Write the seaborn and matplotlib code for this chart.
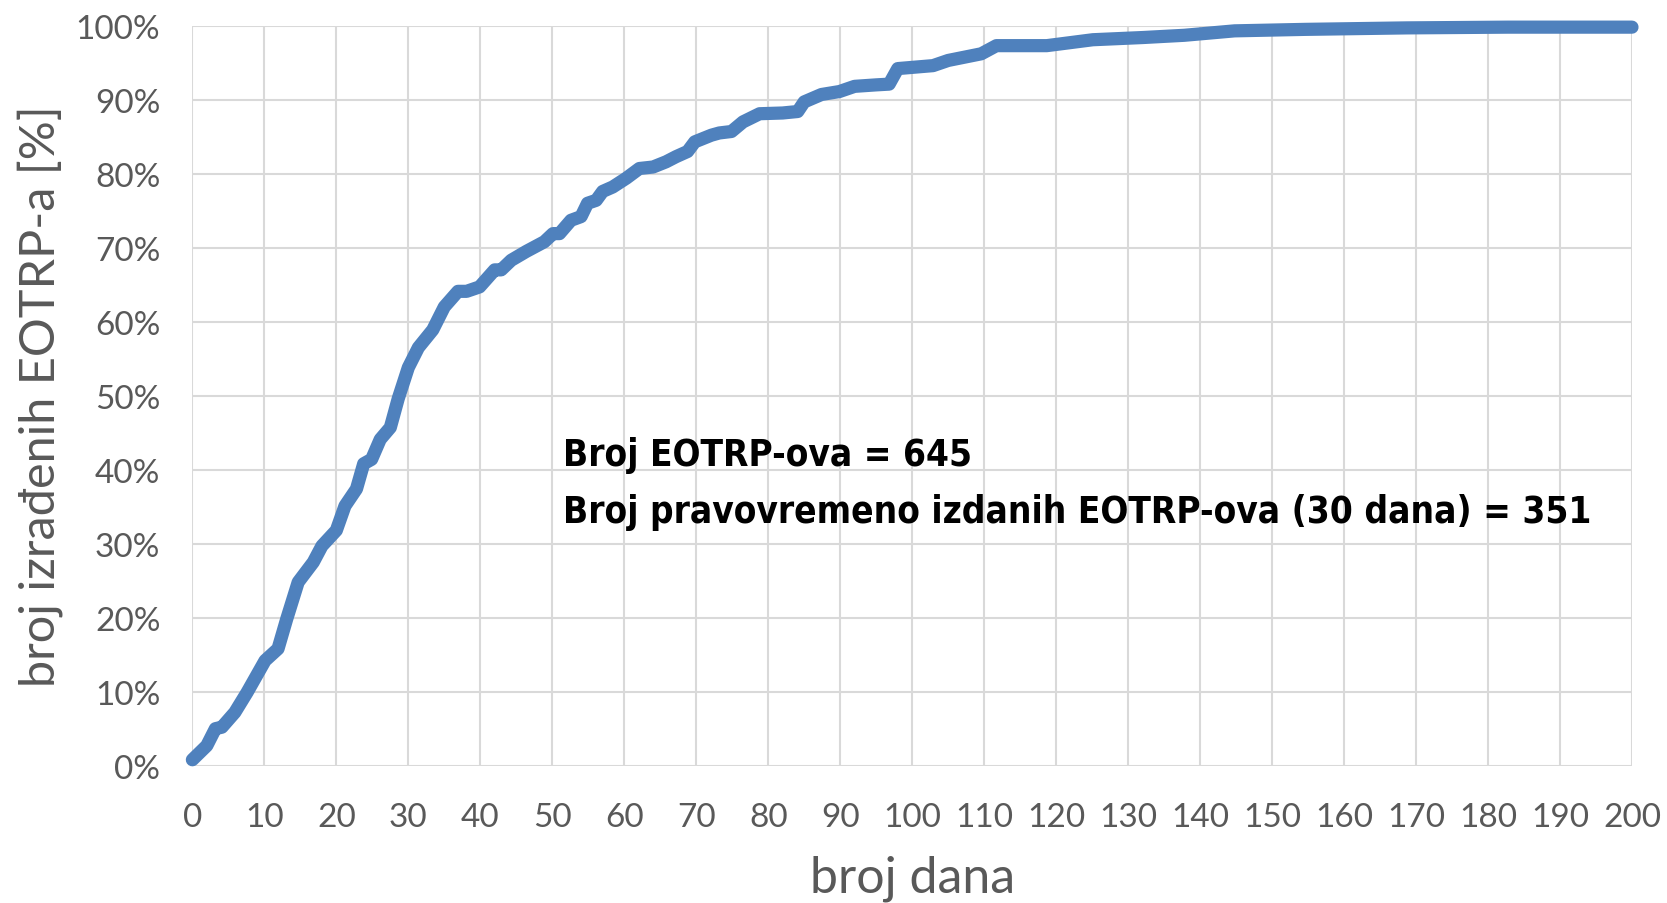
import pandas as pd
import matplotlib.pyplot as plt
import seaborn as sns
from matplotlib.ticker import PercentFormatter

# values (days, cumulative %)
days = [0, 2.0, 3.2, 4.1, 5.9, 7.6, 10.1, 11.9, 13.1, 14.7, 16.8, 18.0, 20.0, 21.2,
        22.8, 23.8, 24.9, 26.1, 27.5, 28.6, 30.0, 31.4, 33.4, 35.0, 36.9, 38.1,
        39.9, 42.0, 42.9, 44.3, 46.4, 48.9, 50.1, 51.0, 52.6, 54.0, 54.9, 56.1,
        57.0, 58.4, 60.3, 62.1, 64.0, 65.8, 67.2, 68.8, 69.8, 72.1, 73.2, 74.9,
        76.5, 78.8, 82.0, 84.1, 85.0, 87.4, 89.9, 92.0, 95.0, 96.8, 98.0, 102.9,
        105.0, 109.6, 111.7, 118.7, 125.1, 132.1, 137.8, 144.8, 154.6, 168.7,
        182.8, 200]
pct = [0.8, 2.7, 5.0, 5.2, 7.2, 9.9, 14.2, 15.8, 19.8, 24.8, 27.5, 29.7, 31.8, 35.1,
       37.4, 40.8, 41.4, 44.1, 45.7, 49.6, 53.8, 56.5, 58.9, 62.0, 64.1, 64.1,
       64.7, 67.0, 67.0, 68.3, 69.5, 70.8, 71.9, 71.9, 73.7, 74.2, 76.0, 76.4,
       77.6, 78.2, 79.4, 80.7, 80.9, 81.6, 82.3, 83.0, 84.3, 85.2, 85.5, 85.7,
       87.0, 88.1, 88.2, 88.4, 89.7, 90.7, 91.1, 91.8, 92.0, 92.1, 94.2, 94.6,
       95.3, 96.2, 97.3, 97.3, 98.1, 98.4, 98.7, 99.3, 99.5, 99.7,
       99.8, 99.8]

note_lines = ["Broj EOTRP-ova = 645",
              "Broj pravovremeno izdanih EOTRP-ova (30 dana) = 351"]

df = pd.DataFrame({"dana": days, "pct": pct})

sns.set_theme(style="white")
plt.rcParams['font.family'] = ['Lato', 'DejaVu Sans']

fig = plt.figure(figsize=(16.67, 9.04), dpi=100)
ax = fig.add_axes([0.1154, 0.1519, 0.8636, 0.8186])

sns.lineplot(data=df, x="dana", y="pct", ax=ax, color="#4F81BD", linewidth=9.5,
             estimator=None, solid_joinstyle="round", solid_capstyle="round",
             clip_on=False, zorder=3)

ax.set_xlim(0, 200)
ax.set_ylim(0, 100)
ax.set_xticks(range(0, 201, 10))
ax.set_yticks(range(0, 101, 10))
ax.yaxis.set_major_formatter(PercentFormatter(decimals=0))
ax.grid(True, color="#D9D9D9", linewidth=1.5)
for s in ax.spines.values():
    s.set_visible(False)
ax.tick_params(axis="y", length=0, labelsize=24, colors="#595959", pad=23)
ax.tick_params(axis="x", length=0, labelsize=24, colors="#595959", pad=26)

ax.set_xlabel("broj dana", fontsize=36, color="#595959", labelpad=16)
ax.set_ylabel("broj izrađenih EOTRP-a [%]", fontsize=35, color="#595959", labelpad=9)

# the two note lines, placed in data coordinates
for y, line in zip([42.1, 34.4], note_lines):
    ax.text(51.5, y, line, fontsize=26.5, fontweight="bold", color="black",
            family=['DejaVu Sans'], fontstretch="condensed", va="center", ha="left")

fig.savefig("out.png", dpi=100)
